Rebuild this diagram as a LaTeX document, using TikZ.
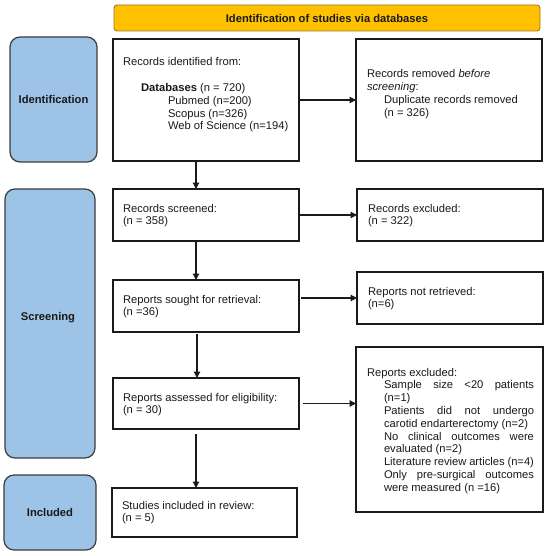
\documentclass[tikz,border=0pt]{standalone}
\usepackage{fontspec}
\setmainfont{Liberation Sans}
\usetikzlibrary{arrows.meta,calc}
\definecolor{hdr}{HTML}{FFC000}
\definecolor{hdrline}{HTML}{9C7A1E}
\definecolor{side}{HTML}{9DC3E6}
\definecolor{ink}{HTML}{1A1A1A}
\newcommand{\tb}[2]{\parbox[t]{#1pt}{\parindent=0pt\tolerance=10000\hyphenpenalty=10000\exhyphenpenalty=10000 #2}}
\begin{document}
\begin{tikzpicture}[x=1pt,y=-1pt,
 every node/.style={inner sep=0pt,outer sep=0pt},
 bx/.style={draw=ink,line width=1.4pt,fill=white},
 hdrbox/.style={draw=hdrline,line width=0.9pt,fill=hdr,rounded corners=3pt,font=\fontsize{11.2}{13}\selectfont\bfseries,text=ink},
 phasebox/.style={draw=ink!85,line width=1.2pt,fill=side,rounded corners=10pt,font=\fontsize{11.2}{13}\selectfont\bfseries,text=ink},
 tx/.style={anchor=base west,font=\fontsize{11.2}{12.8}\selectfont,text=ink},
 arr/.style={draw=ink,line width=1.2pt,-{Triangle[length=6.5pt,width=6.5pt]}}]
\useasboundingbox (0,0) rectangle (550,556);

% header
\node[hdrbox,minimum width=426pt,minimum height=26pt] (header) at (327,18) {Identification of studies via databases};

% phase boxes
\node[phasebox,minimum width=87pt,minimum height=125pt] (pid) at (53.5,99.5) {Identification};
\node[phasebox,minimum width=90pt,minimum height=269pt] (pscr) at (50,323.5) {};
\node[font=\fontsize{11.2}{13}\selectfont\bfseries,text=ink] (pscrlab) at (48,318) {Screening};
\node[phasebox,minimum width=92pt,minimum height=75pt] (pinc) at (50,512.5) {Included};

% boxes
\node[bx,minimum width=186pt,minimum height=122pt] (ident) at (206,100) {};
\node[bx,minimum width=186pt,minimum height=122pt] (removed) at (449,100) {};
\node[bx,minimum width=186pt,minimum height=52pt] (screened) at (206,215) {};
\node[bx,minimum width=186pt,minimum height=52pt] (excluded) at (450,215) {};
\node[bx,minimum width=186pt,minimum height=52pt] (sought) at (206,306) {};
\node[bx,minimum width=186pt,minimum height=52pt] (notretr) at (450,298) {};
\node[bx,minimum width=186pt,minimum height=51pt] (assessed) at (206,403.5) {};
\node[bx,minimum width=187pt,minimum height=165pt] (excl2) at (449.5,429.5) {};
\node[bx,minimum width=185pt,minimum height=49pt] (included) at (204.5,512.5) {};

% texts
\node[tx] (tident) at (123,65.5) {\tb{175}{Records identified from:\\[13.3pt]\hspace*{18pt}\textbf{Databases} (n = 720)\\\hspace*{45pt}Pubmed (n=200)\\\hspace*{45pt}Scopus (n=326)\\\hspace*{45pt}Web of Science (n=194)}};
\node[tx] (tremoved) at (367,78) {\tb{172}{Records removed \textit{before}\\\textit{screening}:\\\hspace*{17pt}Duplicate records removed\\\hspace*{17pt}(n = 326)}};
\node[tx] (tscreened) at (123,212) {\tb{172}{Records screened:\\(n = 358)}};
\node[tx] (texcluded) at (368,212) {\tb{172}{Records excluded:\\(n = 322)}};
\node[tx] (tsought) at (123,303) {\tb{172}{Reports sought for retrieval:\\(n =36)}};
\node[tx] (tnotretr) at (368,295) {\tb{172}{Reports not retrieved:\\(n=6)}};
\node[tx] (tassessed) at (123,401) {\tb{172}{Reports assessed for eligibility:\\(n = 30)}};
\node[tx] (tincluded) at (122,509) {\tb{172}{Studies included in review:\\(n = 5)}};
\node[tx] (texcl2) at (367,376) {\tb{167}{Reports excluded:\par\leftskip=17pt
Sample size <20 patients (n=1)\par
Patients did not undergo carotid endarterectomy (n=2)\par
No clinical outcomes were evaluated (n=2)\par
Literature review articles (n=4)\par
Only pre-surgical outcomes were measured (n =16)}};

% connectors
\coordinate (soughtout) at ($(sought.east)+(2,0)$);
\coordinate (assout) at ($(assessed.east)+(4,0)$);
\draw[arr] (ident.east) -- (removed.west);
\draw[arr] ([xshift=-10pt]ident.south) -- ([xshift=-10pt]screened.north);
\draw[arr] (screened.east) -- (excluded.west);
\draw[arr] ([xshift=-10pt]screened.south) -- ([xshift=-10pt]sought.north);
\draw[arr] (soughtout |- notretr.west) -- (notretr.west);
\draw[arr] ([xshift=-9pt,yshift=-2pt]sought.south) -- ([xshift=-9pt]assessed.north);
\draw[arr] (assout) -- (excl2.west |- assout);
\draw[arr] ([xshift=-10pt,yshift=-5pt]assessed.south) -- ([xshift=-8.5pt]included.north);
\end{tikzpicture}
\end{document}
